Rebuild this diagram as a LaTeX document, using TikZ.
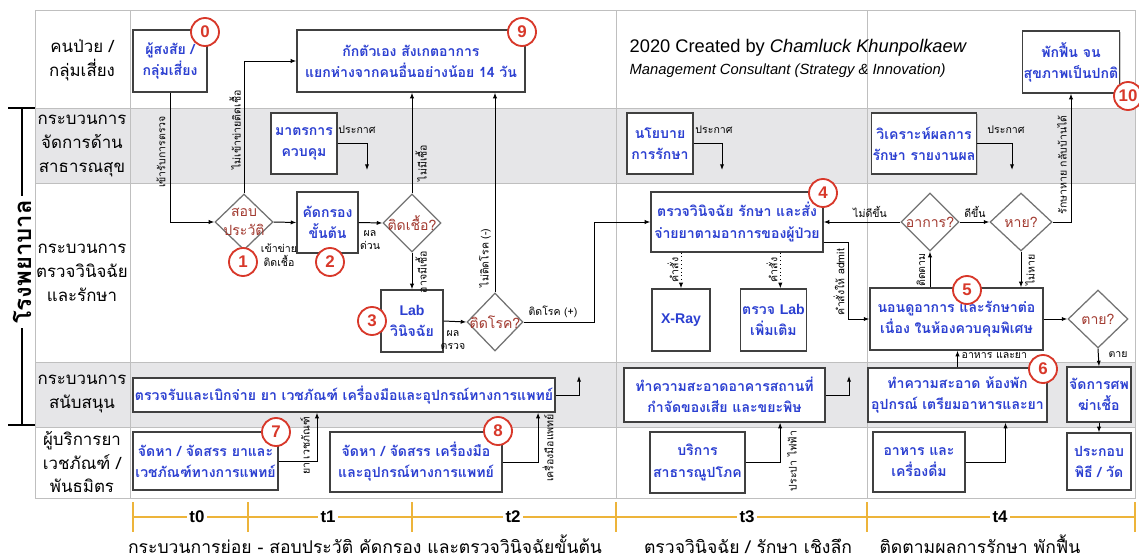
\documentclass[tikz,border=0pt]{standalone}
\usepackage{fontspec}
\setmainfont[Script=Thai]{Loma}
\newfontfamily\latinfont{Liberation Sans}
\usetikzlibrary{shapes.geometric,arrows.meta,shadows}
\definecolor{boxblue}{HTML}{2B3FD1}
\definecolor{diared}{HTML}{A23A30}
\definecolor{badgered}{HTML}{D8382A}
\definecolor{lanegray}{HTML}{E6E6E8}
\definecolor{tline}{HTML}{EDB43A}
\begin{document}
\begin{tikzpicture}[x=0.025cm, y=-0.025cm, every node/.style={inner sep=1pt},
    box/.style={draw=black!75, line width=0.9pt, fill=white, align=center, text=boxblue, font=\bfseries\fontsize{10}{15}\selectfont, drop shadow={shadow xshift=0.6pt, shadow yshift=-0.6pt, fill=black!40}},
    sz/.style 2 args={minimum width=#1*0.025cm, minimum height=#2*0.025cm},
    dia/.style={diamond, draw=black!55, line width=0.9pt, fill=white, inner sep=0pt},
    dtext/.style={align=center, text=diared, font=\fontsize{10}{14}\selectfont},
    badge/.style={circle, draw=badgered, line width=1.3pt, fill=white, text=badgered, minimum size=0.7cm, inner sep=0pt, font=\latinfont\bfseries\fontsize{12}{12}\selectfont},
    lane/.style={align=center, font=\fontsize{12}{17}\selectfont},
    note/.style={align=center, font=\fontsize{7.5}{9.5}\selectfont},
    flow/.style={-{Latex[length=4pt,width=3pt]}, line width=0.7pt},
    grid/.style={draw=black!25, line width=0.5pt},
    tick/.style={draw=tline, line width=0.8pt},
    tlabel/.style={fill=white, inner sep=2pt, font=\latinfont\bfseries\fontsize{12}{12}\selectfont},
    phase/.style={anchor=base, inner sep=0pt, font=\fontsize{12.5}{13}\selectfont}]

    \useasboundingbox (0,0) rectangle (1139,559);
    \fill[lanegray] (35,108) rectangle (1135,183);
    \fill[lanegray] (35,362) rectangle (1135,427);
    \draw[grid] (35,10) rectangle (1135,498);
    \foreach \x in {130,616,867} \draw[grid] (\x,10) -- (\x,498);
    \foreach \y in {108,183,362,427} \draw[grid] (35,\y) -- (1135,\y);

    \draw[line width=0.8pt] (8,108) -- (35,108) (8,425) -- (35,425) (22,108) -- (22,425);
    \node[rotate=90, fill=white, inner sep=3pt, font=\bfseries\fontsize{17}{17}\selectfont] (hosp) at (22,262) {โรงพยาบาล};

    \node[lane] (l_pat) at (82,60) {คนป่วย /\\กลุ่มเสี่ยง};
    \node[lane] (l_pub) at (82,146) {กระบวนการ\\จัดการด้าน\\สาธารณสุข};
    \node[lane] (l_dx) at (82,273) {กระบวนการ\\ตรวจวินิจฉัย\\และรักษา};
    \node[lane] (l_sup) at (82,394) {กระบวนการ\\สนับสนุน};
    \node[lane] (l_ven) at (82,462) {ผู้บริการยา\\เวชภัณฑ์ /\\พันธมิตร};

    \node[anchor=west, font=\latinfont\fontsize{13}{13}\selectfont] (credit) at (628,48) {2020 Created by \textit{Chamluck Khunpolkaew}};
    \node[anchor=west, font=\latinfont\itshape\fontsize{10.5}{10.5}\selectfont] (role) at (628,71) {Management Consultant (Strategy \& Innovation)};

    \node[box, sz={74}{62}] (n0) at (170,61) {ผู้สงสัย /\\กลุ่มเสี่ยง};
    \node[box, sz={228}{62}] (n9) at (411,61) {กักตัวเอง สังเกตอาการ\\แยกห่างจากคนอื่นอย่างน้อย 14 วัน};
    \node[box, sz={92}{62}] (rec) at (1071,62) {พักฟื้น จน\\สุขภาพเป็นปกติ};

    \node[box, sz={66}{61}] (ctrl) at (304,143.5) {มาตรการ\\ควบคุม};
    \node[box, sz={66}{61}] (policy) at (660,143.5) {นโยบาย\\การรักษา};
    \node[box, sz={102}{61}] (review) at (924,143.5) {วิเคราะห์ผลการ\\รักษา รายงานผล};

    \node[dia, sz={58}{56}] (hist) at (244,222) {};
    \node[dtext] at (hist) {สอบ\\ประวัติ};
    \node[box, sz={61}{61}] (screen) at (327.5,222.5) {คัดกรอง\\ขั้นต้น};
    \node[dia, sz={58}{58}] (inf) at (412,223) {};
    \node[dtext] at (inf) {ติดเชื้อ?};
    \node[box, sz={62}{62}] (lab) at (412,321) {{\latinfont Lab}\\วินิจฉัย};
    \node[dia, sz={56}{58}] (dis) at (495,322) {};
    \node[dtext] at (dis) {ติดโรค?};
    \node[box, sz={172}{60}] (treat) at (737,222) {ตรวจวินิจฉัย รักษา และสั่ง\\จ่ายยาตามอาการของผู้ป่วย};
    \node[box, sz={58}{62}] (xray) at (681,320) {\latinfont X-Ray};
    \node[box, sz={63}{62}] (labx) at (773.5,320) {ตรวจ {\latinfont Lab}\\เพิ่มเติม};
    \node[box, sz={173}{62}] (ward) at (956.5,319) {นอนดูอาการ และรักษาต่อ\\เนื่อง ในห้องควบคุมพิเศษ};
    \node[dia, sz={58}{58}] (sym) at (930,222) {};
    \node[dtext] at (sym) {อาการ?};
    \node[dia, sz={62}{58}] (cure) at (1021,222) {};
    \node[dtext] at (cure) {หาย?};
    \node[dia, sz={60}{58}] (dead) at (1098,319) {};
    \node[dtext] at (dead) {ตาย?};

    \node[box, sz={422}{34}] (recv) at (344,395) {ตรวจรับและเบิกจ่าย ยา เวชภัณฑ์ เครื่องมือและอุปกรณ์ทางการแพทย์};
    \node[box, sz={201}{54}] (clean1) at (724.5,395) {ทำความสะอาดอาคารสถานที่\\กำจัดของเสีย และขยะพิษ};
    \node[box, sz={179}{54}] (clean2) at (957.5,395) {ทำความสะอาด ห้องพัก\\อุปกรณ์ เตรียมอาหารและยา};
    \node[box, sz={64}{55}] (morgue) at (1099,394.5) {จัดการศพ\\ฆ่าเชื้อ};

    \node[box, sz={145}{58}] (supply1) at (205.5,461) {จัดหา / จัดสรร ยาและ\\เวชภัณฑ์ทางการแพทย์};
    \node[box, sz={172}{60}] (supply2) at (416,462) {จัดหา / จัดสรร เครื่องมือ\\และอุปกรณ์ทางการแพทย์};
    \node[box, sz={95}{61}] (util) at (697.5,462.5) {บริการ\\สาธารณูปโภค};
    \node[box, sz={92}{60}] (food) at (919,462) {อาหาร และ\\เครื่องดื่ม};
    \node[box, sz={64}{57}] (rite) at (1099,461.5) {ประกอบ\\พิธี / วัด};

    \coordinate (ctrl_out) at (367,170);
    \coordinate (policy_out) at (722,170);
    \coordinate (review_out) at (1012,170);
    \coordinate (recv_out) at (579,376);
    \coordinate (clean1_out) at (849,376);

    \draw[flow] (ctrl.east) -| (ctrl_out);
    \node[note] at (357,130) {ประกาศ};
    \draw[flow] (policy.east) -| (policy_out);
    \node[note] at (714,130) {ประกาศ};
    \draw[flow] (review.east) -| (review_out);
    \node[note] at (1006,130) {ประกาศ};

    \draw[flow] (n0.south) |- (hist.west);
    \node[note, rotate=90] at (161,152) {เข้ารับการตรวจ};
    \draw[flow] (hist.north) |- (n9.west);
    \node[note, rotate=90] at (235,130) {ไม่เข้าข่ายติดเชื้อ};
    \draw[flow] (hist.east) -- (screen.west);
    \node[note] at (279,255) {เข้าข่าย\\ติดเชื้อ};
    \draw[flow] (screen.east) -- (inf.west);
    \node[note] at (370,240) {ผล\\ด่วน};
    \draw[flow] (inf.north) -- (inf.north |- n9.south);
    \node[note, rotate=90] at (421,163) {ไม่มีเชื้อ};
    \draw[flow] (inf.south) -- (lab.north);
    \node[note, rotate=90] at (421,272) {อาจมีเชื้อ};
    \draw[flow] (lab.east) -- (dis.west);
    \node[note] at (453,340) {ผล\\ตรวจ};
    \draw[flow] (dis.north) -- (dis.north |- n9.south);
    \node[note, rotate=90] at (485,258) {ไม่ติดโรค (-)};
    \draw[flow] (dis.east) -- ++(71,0) |- (treat.west);
    \node[note] at (553,312) {ติดโรค (+)};

    \draw[flow, dotted] (xray.north |- treat.south) -- (xray.north);
    \node[note, rotate=90] at (673,270) {คำสั่ง};
    \draw[flow, dotted] ([xshift=0.17cm]labx.north |- treat.south) -- ([xshift=0.17cm]labx.north);
    \node[note, rotate=90] at (772,270) {คำสั่ง};
    \draw[flow] ([yshift=-0.5cm]treat.east) -- ++(25,0) |- (ward.west);
    \node[note, rotate=90] at (839,282) {คำสั่งให้ admit};

    \draw[flow] (sym.south |- ward.north) -- (sym.south);
    \node[note, rotate=90] at (921,270) {ติดตาม};
    \draw[flow] (sym.west) -- (treat.east);
    \node[note] at (870,212) {ไม่ดีขึ้น};
    \draw[flow] (sym.east) -- (cure.west);
    \node[note] at (975,212) {ดีขึ้น};
    \draw[flow] (cure.south) -- (cure.south |- ward.north);
    \node[note, rotate=90] at (1030,270) {ไม่หาย};
    \draw[flow] (cure.east) -| (rec.south);
    \node[note, rotate=90] at (1062,165) {รักษาหาย กลับบ้านได้};

    \draw[flow] (ward.east) -- (dead.west);
    \draw[flow] (dead.south) -- (morgue.north);
    \node[note] at (1118,355) {ตาย};
    \draw[flow] (morgue.south) -- (rite.north);
    \draw[flow] (clean2.north) -- (clean2.north |- ward.south);
    \node[note, anchor=west] at (960,356) {อาหาร และยา};

    \draw[flow] (recv.east) -| (recv_out);
    \draw[flow] (clean1.east) -| (clean1_out);
    \draw[flow] (supply1.east) -| ([xshift=-0.675cm]recv.south);
    \node[note, rotate=90] at (305,446) {ยา เวชภัณฑ์};
    \draw[flow] (supply2.east) -| ([xshift=4.85cm]recv.south);
    \node[note, rotate=90] at (548,448) {เครื่องมือแพทย์};
    \draw[flow] (util.east) -| ([xshift=1.39cm]clean1.south);
    \node[note, rotate=90] at (792,461) {ประปา ไฟฟ้า};
    \draw[flow] (food.east) -| ([xshift=1.2cm]clean2.south);

    \node[badge] (b0) at (205,32) {0};
    \node[badge] (b9) at (522,32) {9};
    \node[badge] (b1) at (243,262) {1};
    \node[badge] (b2) at (330,262) {2};
    \node[badge] (b3) at (372,321) {3};
    \node[badge] (b4) at (823,193) {4};
    \node[badge] (b5) at (967,290) {5};
    \node[badge] (b6) at (1043,369) {6};
    \node[badge] (b7) at (276,432) {7};
    \node[badge] (b8) at (498,431) {8};
    \node[badge] (b10) at (1128,96) {10};

    \draw[tick] (133,517) -- (1135,517);
    \foreach \x in {133,248,412,616,867,1135} \draw[tick] (\x,502) -- (\x,532);
    \node[tlabel] (t0) at (197,517) {t0};
    \node[tlabel] (t1) at (328,517) {t1};
    \node[tlabel] (t2) at (513,517) {t2};
    \node[tlabel] (t3) at (747,517) {t3};
    \node[tlabel] (t4) at (1000,517) {t4};

    \node[phase] (p1) at (365,553) {กระบวนการย่อย - สอบประวัติ คัดกรอง และตรวจวินิจฉัยขั้นต้น};
    \node[phase] (p2) at (748,553) {ตรวจวินิจฉัย / รักษา เชิงลึก};
    \node[phase] (p3) at (980,553) {ติดตามผลการรักษา พักฟื้น};

\end{tikzpicture}
\end{document}
